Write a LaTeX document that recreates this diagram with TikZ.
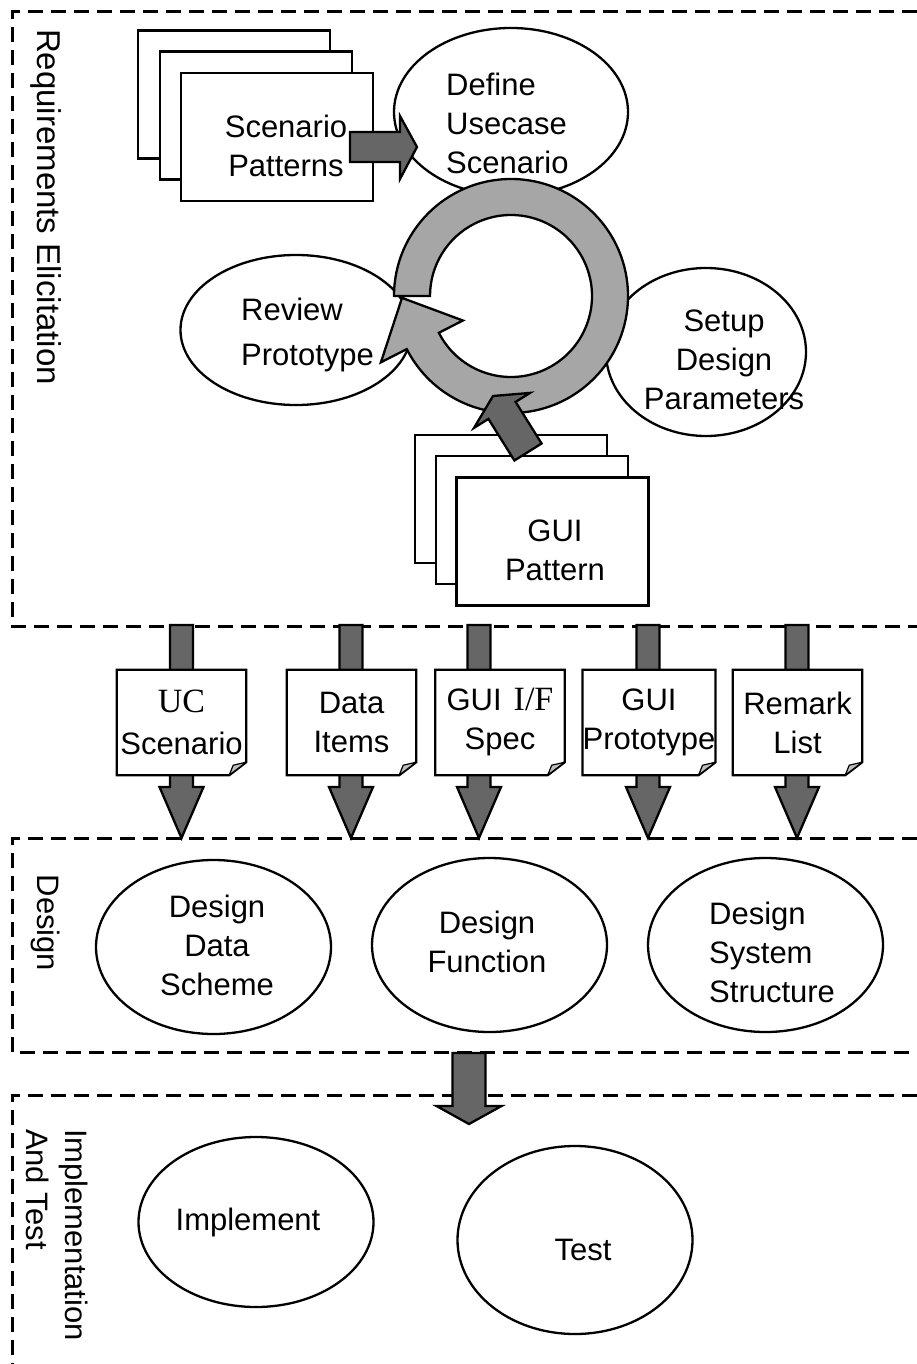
\documentclass[tikz,border=0pt]{standalone}
\usepackage{fontspec}
\setmainfont{Liberation Sans}
\newfontfamily\mincho{Liberation Serif}
\usetikzlibrary{shapes.geometric}

\definecolor{arrowfill}{RGB}{102,102,102}
\definecolor{ringfill}{RGB}{166,166,166}
\definecolor{flapfill}{RGB}{190,190,190}

% downward block arrow: x, top y, head base y, tip y, shaft half width, head half width
\newcommand\blockdown[6]{%
  \filldraw[blockarrow] (#1-#5,#2) -- (#1+#5,#2) -- (#1+#5,#3) -- (#1+#6,#3)
    -- (#1,#4) -- (#1-#6,#3) -- (#1-#5,#3) -- cycle;}

% outline of a document sheet with a folded lower-right corner
\newcommand\foldsheet[1]{%
  \draw[line width=2.3pt, line join=miter] (#1.north west) -- (#1.north east)
    -- ([yshift=13pt]#1.south east) -- ([xshift=-17pt]#1.south east)
    -- (#1.south west) -- cycle;
  \filldraw[fill=flapfill, line width=1.2pt, line join=round]
    ([yshift=13pt]#1.south east) -- ([xshift=-17pt]#1.south east)
    -- ([xshift=-13pt,yshift=10pt]#1.south east) -- cycle;}

\begin{document}
\begin{tikzpicture}[x=1pt,y=-1pt,
  every node/.style={font=\fontsize{31}{39}\selectfont},
  frame/.style={line width=3pt, dash pattern=on 15pt off 8pt},
  sheet/.style={draw, line width=2.3pt, fill=white, rectangle,
    minimum width=192pt, minimum height=128pt, inner sep=0pt},
  proc/.style={draw, line width=2.3pt, fill=white, ellipse, inner sep=0pt},
  lbl/.style={inner sep=0pt, align=center},
  doc/.style={fill=white, rectangle, minimum width=129pt,
    minimum height=105pt, inner sep=0pt, align=center},
  blockarrow/.style={fill=arrowfill, draw=black, line width=2.3pt, line join=miter},
  ring/.style={fill=ringfill, draw=black, line width=2.3pt, line join=miter}
]
\fill[white] (0,0) rectangle (917,1364);
\path[use as bounding box] (0,0) rectangle (917,1364);

% phase frames
\draw[frame] (917,12) -- (12,12) -- (12,626) -- (917,626);
\draw[frame] (917,838) -- (12,838) -- (12,1052) -- (917,1052);
\draw[frame] (917,1095) -- (12,1095) -- (12,1364);

% scenario pattern stack
\node[sheet] (spBack) at (234,94.5) {};
\node[sheet] (spMid) at (256,115.5) {};
\node[sheet] (spFront) at (277,137) {};

% requirements activities
\node[proc, minimum width=234pt, minimum height=168pt] (define) at (511,112) {};
\node[proc, minimum width=231pt, minimum height=150pt] (review) at (296,330) {};
\node[proc, minimum width=200pt, minimum height=168pt] (setup) at (706,352) {};
\node[lbl, align=left, anchor=west] (defineText) at (446,123) {Define\\Usecase\\Scenario};
\node[lbl, align=left, anchor=west] (reviewText) at (241,335) {Review\\[6pt]Prototype};

% iteration cycle
\begin{scope}[shift={(511,296)}]
\draw[ring] (180:117) arc[start angle=180, end angle=513, radius=117]
  -- (153:146) -- (179:109) -- (153:54) -- (153:81)
  arc[start angle=153, end angle=-180, radius=81] -- cycle;
\end{scope}

\node[lbl] (setupText) at (724,360) {Setup\\Design\\Parameters};

% scenario patterns feed the use case definition
\filldraw[blockarrow] (350,132) -- (400,132) -- (400,116) -- (417,147)
  -- (400,179) -- (400,162) -- (350,162) -- cycle;
\node[lbl] (spText) at (286,146) {Scenario\\Patterns};

% GUI pattern stack
\node[sheet] (gpBack) at (511,499) {};
\node[sheet] (gpMid) at (532,520) {};
\node[sheet] (gpFront) at (552.5,541.5) {};
\filldraw[blockarrow] (541.6,443.5) -- (515.6,401.9) -- (530.0,392.9)
  -- (493.0,396.0) -- (474.0,427.9) -- (488.4,418.9) -- (514.4,460.5) -- cycle;
\node[lbl] (gpText) at (555,550) {GUI\\Pattern};

% artefacts passed to design
\blockdown{181.5}{625}{787}{838}{11.5}{22}
\blockdown{351}{625}{787}{838}{11.5}{22}
\blockdown{479}{625}{787}{838}{11.5}{22}
\blockdown{648}{625}{787}{838}{11.5}{22}
\blockdown{797}{625}{787}{838}{11.5}{22}

\node[doc] (ucDoc) at (181.5,722.5)
  {{\mincho\fontsize{34}{39}\selectfont UC}\\[3pt]Scenario};
\foldsheet{ucDoc}
\node[doc] (dataDoc) at (351.5,722.5) {Data\\Items};
\foldsheet{dataDoc}
\node[doc] (specDoc) at (500,722.5)
  {GUI\hspace{12pt}{\mincho\fontsize{34}{39}\selectfont I/F}\\Spec};
\foldsheet{specDoc}
\node[doc] (protoDoc) at (649,722.5) {GUI\\Prototype};
\foldsheet{protoDoc}
\node[doc] (remarkDoc) at (797.5,722.5) {Remark\\List};
\foldsheet{remarkDoc}

% design activities
\node[proc, minimum width=235pt, minimum height=174pt] (dds) at (213.5,947) {};
\node[proc, minimum width=235pt, minimum height=174pt] (dfn) at (489.5,945) {};
\node[proc, minimum width=235pt, minimum height=174pt] (dss) at (765.5,945) {};
\node[lbl] (ddsText) at (217,945) {Design\\Data\\Scheme};
\node[lbl] (dfnText) at (487,942) {Design\\Function};
\node[lbl, align=left, anchor=west] (dssText) at (709,952) {Design\\System\\Structure};

% design hands over to implementation
\blockdown{469}{1053}{1106}{1124}{16.5}{32.5}

% implementation and test
\node[proc, minimum width=235pt, minimum height=170pt] (impl) at (256,1222) {};
\node[proc, minimum width=235pt, minimum height=188pt] (test) at (575,1240) {};
\node[lbl] (implText) at (248,1222) {Implement};
\node[lbl] (testText) at (583,1250) {Test};

% phase titles
\node[lbl, rotate=-90, font=\fontsize{33}{39}\selectfont] (reqLabel) at (46.5,207)
  {Requirements Elicitation};
\node[lbl, rotate=-90] (desLabel) at (46,923) {Design};
\node[lbl, rotate=-90, align=left] (itLabel) at (57.5,1235) {Implementation\\And Test};
\end{tikzpicture}
\end{document}
